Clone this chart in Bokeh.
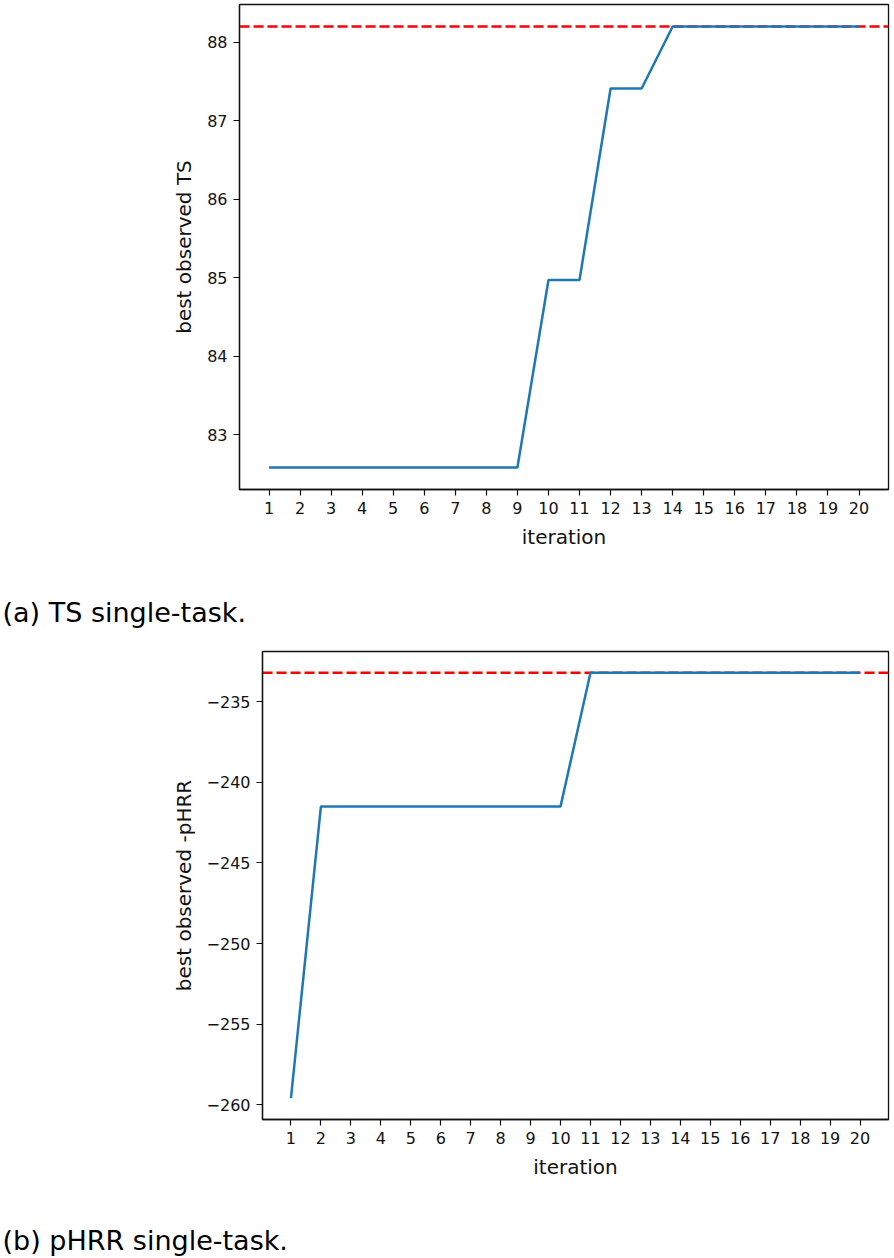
from bokeh.plotting import figure
from bokeh.models import Range1d, FixedTicker, Span, ColumnDataSource
from bokeh.embed import file_html
from bokeh.resources import INLINE
from bokeh.core.properties import value

# ---- data ----
iterations = list(range(1, 21))
ts_best = [82.58, 82.58, 82.58, 82.58, 82.58, 82.58, 82.58, 82.58, 82.58,
           84.97, 84.97, 87.41, 87.41, 88.2, 88.2, 88.2, 88.2, 88.2, 88.2, 88.2]
ts_target = 88.2
ts_yticks = [83, 84, 85, 86, 87, 88]

phrr_best = [-259.6, -241.5, -241.5, -241.5, -241.5, -241.5, -241.5, -241.5, -241.5, -241.5,
             -233.2, -233.2, -233.2, -233.2, -233.2, -233.2, -233.2, -233.2, -233.2, -233.2]
phrr_target = -233.2
phrr_yticks = [-260, -255, -250, -245, -240, -235]

caption_a = "(a) TS single-task."
caption_b = "(b) pHRR single-task."

BLUE = "#1f77b4"
TICK_FONT = "DejaVu Sans"
PAGE_W = 890


def padded(vals, frac=0.05):
    lo, hi = min(vals), max(vals)
    pad = (hi - lo) * frac
    return lo - pad, hi + pad


def make_plot(y, target, yticks, ylabel, left, top, fh, bottom):
    x0, x1 = padded(iterations)
    y0, y1 = padded(y + [target])
    fw = PAGE_W - left - 2
    p = figure(frame_width=fw, frame_height=fh, output_backend="svg",
               toolbar_location=None, tools="",
               x_range=Range1d(x0, x1), y_range=Range1d(y0, y1),
               min_border_left=left, min_border_right=2,
               min_border_top=top, min_border_bottom=bottom)
    p.grid.visible = False
    p.outline_line_color = "#111111"
    p.outline_line_width = 1.3
    p.background_fill_color = "white"
    p.border_fill_color = "white"

    span = Span(location=target, dimension="width", line_color="red",
                line_width=2.4, line_dash="10 4", level="underlay")
    p.add_layout(span)

    src = ColumnDataSource(dict(x=iterations, y=y))
    p.line("x", "y", source=src, line_color=BLUE, line_width=2.5)

    p.xaxis.ticker = FixedTicker(ticks=iterations)
    p.yaxis.ticker = FixedTicker(ticks=yticks)
    p.yaxis.major_label_overrides = {
        float(t): (("\u2212" + str(abs(t))) if t < 0 else str(t)) for t in yticks
    }
    for ax in (p.xaxis[0], p.yaxis[0]):
        ax.minor_tick_line_color = None
        ax.major_tick_in = 0
        ax.major_tick_out = 6
        ax.major_tick_line_color = "#111111"
        ax.major_tick_line_width = 1.2
        ax.axis_line_color = "#111111"
        ax.axis_line_width = 1.3
        ax.major_label_text_font = TICK_FONT
        ax.major_label_text_font_size = "16px"
        ax.major_label_text_color = "#111111"
        ax.major_label_standoff = 6
        ax.axis_label_text_font = TICK_FONT
        ax.axis_label_text_font_size = "20px"
        ax.axis_label_text_font_style = "normal"
        ax.axis_label_text_color = "#111111"
        ax.axis_label_standoff = 8
    p.xaxis.axis_label = "iteration"
    p.yaxis.axis_label = ylabel
    return p


def make_caption(text, height, center_from_top):
    c = figure(width=PAGE_W, height=height, output_backend="svg", toolbar_location=None,
               tools="", x_range=Range1d(0, PAGE_W), y_range=Range1d(height, 0),
               min_border=0, min_border_left=0, min_border_right=0,
               min_border_top=0, min_border_bottom=0)
    c.axis.visible = False
    c.grid.visible = False
    c.outline_line_color = None
    src = ColumnDataSource(dict(x=[2.0], y=[center_from_top], t=[text]))
    c.text("x", "y", text="t", source=src, text_font=value("DejaVu Sans"),
           text_font_size="27px", text_baseline="middle", text_align="left",
           text_color="#000000")
    return c


p1 = make_plot(ts_best, ts_target, ts_yticks, "best observed TS", 239, 4, 485, 82)
cap1 = make_caption(caption_a, 60, 41)
p2 = make_plot(phrr_best, phrr_target, phrr_yticks, "best observed -pHRR", 262, 20, 468, 80)
cap2 = make_caption(caption_b, 58, 41)

open("out.html", "w").write(file_html([p1, cap1, p2, cap2], INLINE))
